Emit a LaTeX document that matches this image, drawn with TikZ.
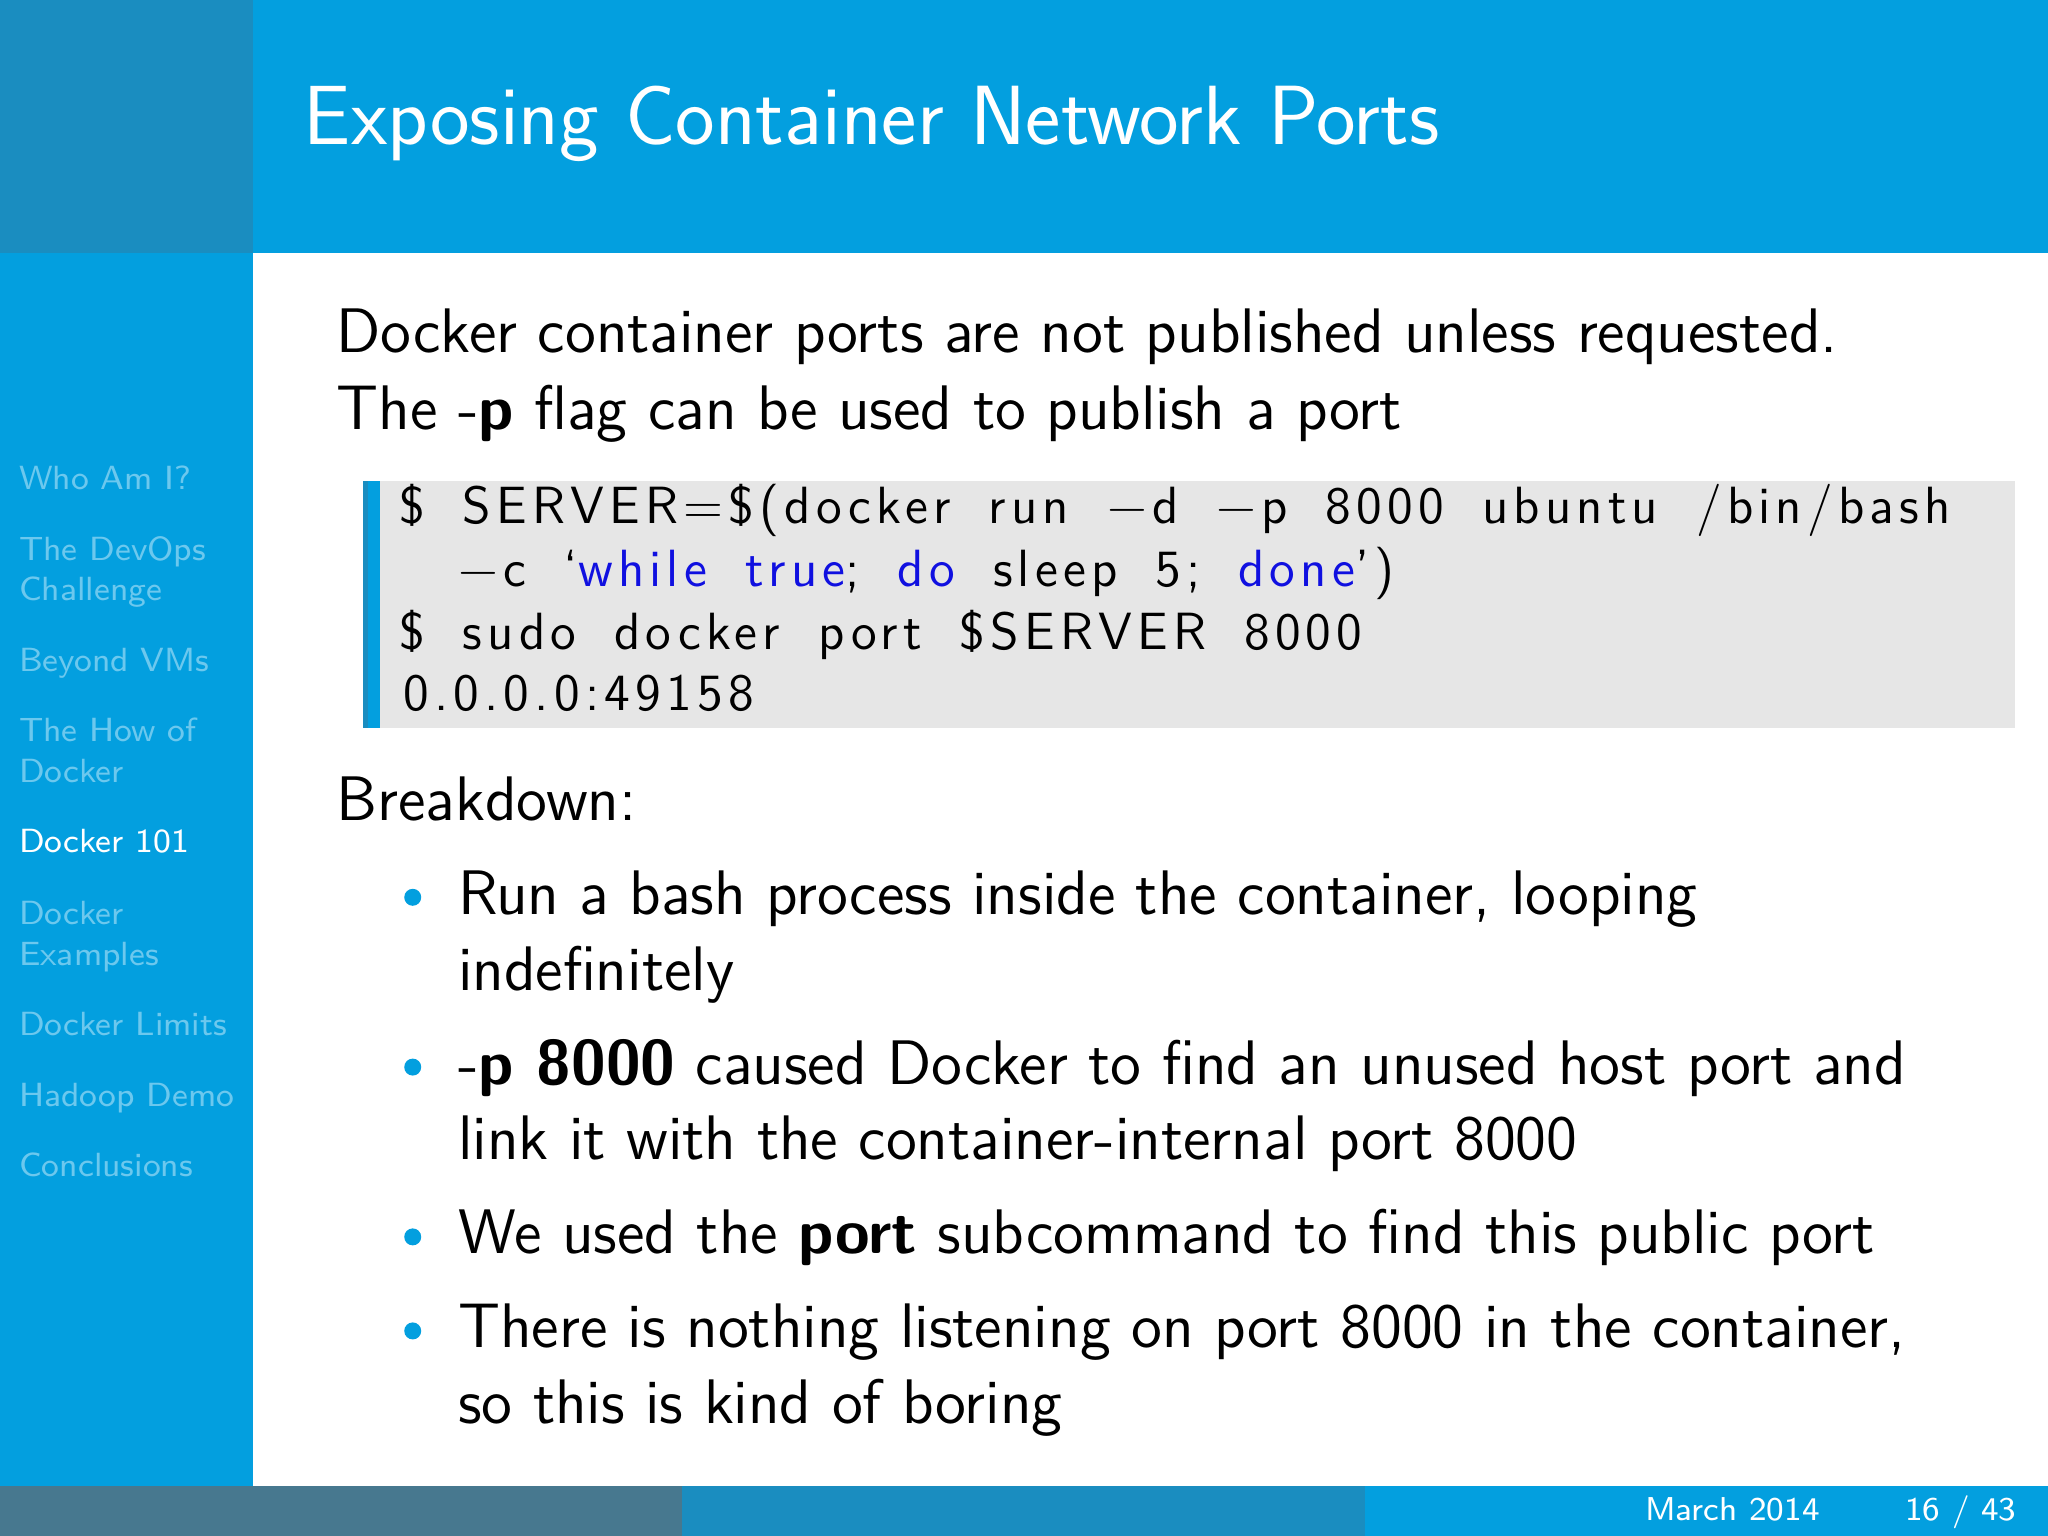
\documentclass[tikz,border=0pt]{standalone}
\usepackage{fontspec}
\setmainfont{Latin Modern Sans}
\newfontfamily\codefont[LetterSpace=10,WordSpace=1.7]{Latin Modern Sans}
\definecolor{tbar}{HTML}{039FDF}
\definecolor{dark}{HTML}{1A8DC0}
\definecolor{slate}{HTML}{47788F}
\definecolor{faded}{HTML}{6CC8EE}
\definecolor{kw}{HTML}{1010E0}
\definecolor{codebg}{HTML}{E6E6E6}
\newcommand\mn{\textminus}
\tikzset{
 body/.style={anchor=base west,inner sep=0,font=\fontsize{13.7}{16}\selectfont},
 code/.style={anchor=base west,inner sep=0,font=\fontsize{11.4}{13}\codefont},
 side/.style={anchor=base west,inner sep=0,font=\fontsize{7.3}{8.8}\selectfont,text=faded},
 foot/.style={anchor=base west,inner sep=0,font=\fontsize{7.2}{9}\selectfont,text=white},
 bul/.style={circle,fill=tbar,inner sep=0,minimum size=0.13cm}
}
\begin{document}
\begin{tikzpicture}[x=0.01cm,y=-0.01cm]
\useasboundingbox (0,0) rectangle (1568,1176);
\fill[white] (0,0) rectangle (1568,1176);
\fill[tbar] (0,0) rectangle (1568,194);
\fill[dark] (0,0) rectangle (194,194);
\fill[tbar] (0,194) rectangle (194,1138);
\fill[slate] (0,1138) rectangle (522,1176);
\fill[dark] (522,1138) rectangle (1045,1176);
\fill[tbar] (1045,1138) rectangle (1568,1176);
\node[anchor=base west,inner sep=0,text=white,font=\fontsize{18.3}{22}\selectfont] (title) at (232,111) {Exposing Container Network Ports};
% sidebar
\node[side] (s1) at (14,375) {Who Am I?};
\node[side] (s2) at (14,429) {The DevOps};
\node[side] (s2b) at (14,460) {Challenge};
\node[side] (s3) at (14,514) {Beyond VMs};
\node[side] (s4) at (14,568) {The How of};
\node[side] (s4b) at (14,599) {Docker};
\node[side,text=white] (s5) at (14,653) {Docker 101};
\node[side] (s6) at (14,708) {Docker};
\node[side] (s6b) at (14,739) {Examples};
\node[side] (s7) at (14,793) {Docker Limits};
\node[side] (s8) at (14,847) {Hadoop Demo};
\node[side] (s9) at (14,901) {Conclusions};
% body
\node[body] (l1) at (257,270) {Docker container ports are not published unless requested.};
\node[body] (l2) at (257,329) {The -\textbf{p} flag can be used to publish a port};
\fill[codebg] (290,368) rectangle (1543,557);
\fill[tbar] (278,368) rectangle (291,557);
\fill[dark] (278,368) rectangle (282,557);
\node[code] (c1) at (305,401) {\$ SERVER=\$(docker run \mn d \mn p 8000 ubuntu /bin/bash};
\node[code] (c2) at (350,449) {\mn c ‘\textcolor{kw}{while} \textcolor{kw}{true}; \textcolor{kw}{do} sleep 5; \textcolor{kw}{done}’)};
\node[code] (c3) at (305,497) {\$ sudo docker port \$SERVER 8000};
\node[code] (c4) at (308,544) {0.0.0.0:49158};
\node[body] (bd) at (257,628) {Breakdown:};
\node[bul] (b1) at (316,687) {};
\node[body] (t1) at (350,700) {Run a bash process inside the container, looping};
\node[body] (t1b) at (350,758) {indefinitely};
\node[bul] (b2) at (316,817) {};
\node[body] (t2) at (350,830) {-\textbf{p 8000} caused Docker to find an unused host port and};
\node[body] (t2b) at (350,888) {link it with the container-internal port 8000};
\node[bul] (b3) at (316,947) {};
\node[body] (t3) at (350,960) {We used the \textbf{port} subcommand to find this public port};
\node[bul] (b4) at (316,1019) {};
\node[body] (t4) at (350,1032) {There is nothing listening on port 8000 in the container,};
\node[body] (t4b) at (350,1090) {so this is kind of boring};
\node[foot] (f1) at (1259,1164) {March 2014};
\node[foot] (f2) at (1458,1164) {16 / 43};
\end{tikzpicture}
\end{document}
